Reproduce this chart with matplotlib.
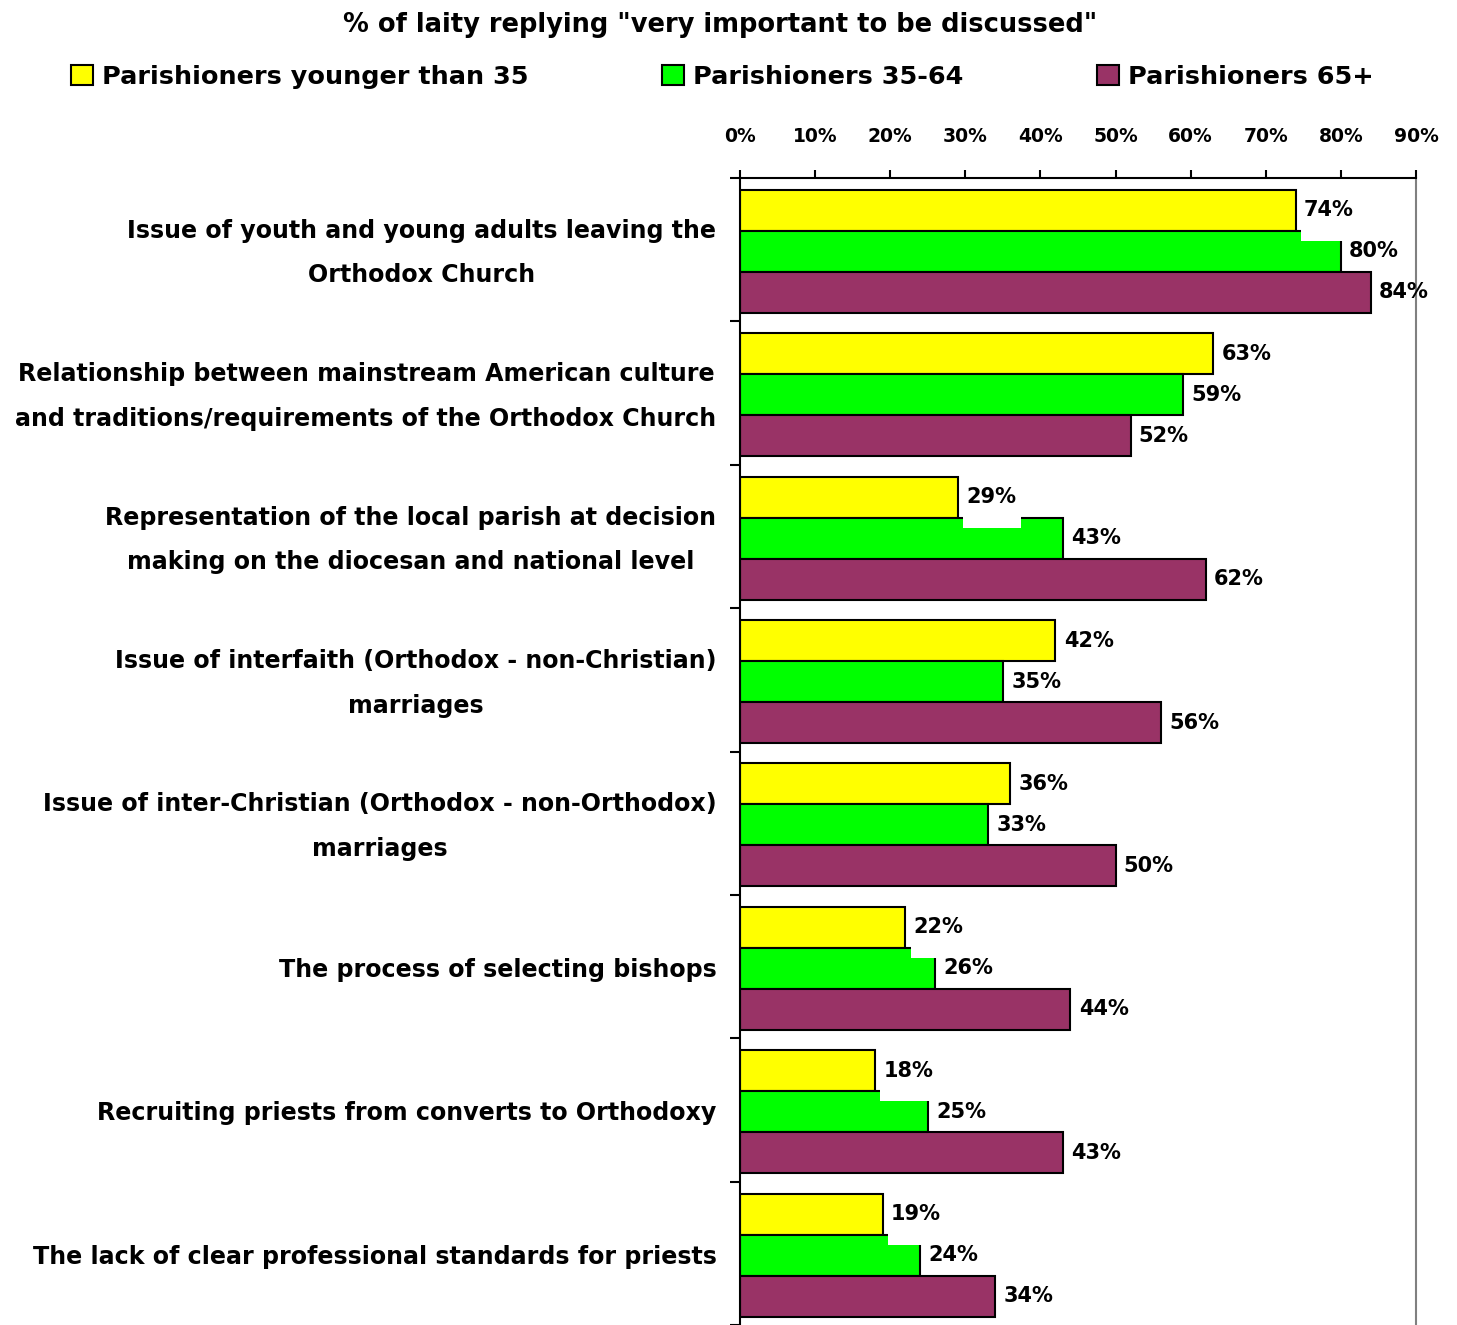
import numpy as np
import matplotlib
matplotlib.use("Agg")
import matplotlib.pyplot as plt
from matplotlib.patches import Patch, Rectangle

plt.rcParams['font.family'] = ['DejaVu Sans']
plt.rcParams['font.weight'] = 'bold'

# Donnees
categories = [
    "Issue of youth and young adults leaving the\nOrthodox Church",
    "Relationship between mainstream American culture\nand traditions/requirements of the Orthodox Church",
    "Representation of the local parish at decision\nmaking on the diocesan and national level",
    "Issue of interfaith (Orthodox - non-Christian)\nmarriages",
    "Issue of inter-Christian (Orthodox - non-Orthodox)\nmarriages",
    "The process of selecting bishops",
    "Recruiting priests from converts to Orthodoxy",
    "The lack of clear professional standards for priests",
]
jeunes = [74, 63, 29, 42, 36, 22, 18, 19]
moyens = [80, 59, 43, 35, 33, 26, 25, 24]
aines = [84, 52, 62, 56, 50, 44, 43, 34]
series = ["Parishioners younger than 35", "Parishioners 35-64", "Parishioners 65+"]
couleurs = ["#FFFF00", "#00FF00", "#993366"]
x_ticks = [0, 10, 20, 30, 40, 50, 60, 70, 80, 90]
titre = '% of laity replying "very important to be discussed"'

W, H = 1457, 1325
fig = plt.figure(figsize=(W / 100, H / 100), dpi=100)
ax = fig.add_axes([740 / W, 0, 676 / W, 1 - 178 / H])

h = 0.286
y = np.arange(len(categories))
valeurs = [jeunes, moyens, aines]
for k, (vals, c) in enumerate(zip(valeurs, couleurs)):
    pos = y + (k - 1) * h + 0.012
    ax.barh(pos, vals, height=h, color=c, edgecolor="black", linewidth=1.5, zorder=2)
    for p, v in zip(pos, vals):
        if k == 0:
            # fond blanc de l'etiquette qui mord sur la barre suivante
            ax.add_patch(Rectangle((v + 0.7, p), 7.7, h / 2 + 0.07,
                                   facecolor="white", edgecolor="none", zorder=3))
        ax.text(v + 1.1, p, "%d%%" % v, va="center", ha="left",
                fontsize=15, fontweight="bold", zorder=4)

ax.set_xlim(0, 90)
ax.set_ylim(len(categories) - 0.5, -0.5)

ax.xaxis.tick_top()
ax.set_xticks(x_ticks)
ax.set_xticklabels(["%d%%" % t for t in x_ticks], fontsize=13.5, fontweight="bold")
ax.tick_params(axis="x", direction="out", length=6, width=1.5, pad=17)

# libelles des categories (centres dans le groupe)
ax.set_yticks(y)
ax.set_yticklabels([])
ax.tick_params(axis="y", which="major", length=0)
for i, cat in enumerate(categories):
    ax.annotate(cat, xy=(0, i), xycoords=ax.get_yaxis_transform(),
                xytext=(-17, -2.5), textcoords="offset points",
                ha="right", va="center", multialignment="center",
                fontsize=17.15, fontweight="bold", linespacing=2.08)
ax.set_yticks(np.arange(-0.5, len(categories), 1), minor=True)
ax.tick_params(axis="y", which="minor", direction="out", length=7, width=1.5)

ax.spines["bottom"].set_visible(False)
ax.spines["top"].set_linewidth(1.5)
ax.spines["left"].set_linewidth(1.5)
ax.spines["right"].set_color("#808080")
ax.spines["right"].set_linewidth(1.5)

fig.text(720 / W, 1 - 25 / H, titre, ha="center", va="center", fontsize=18.5, fontweight="bold")

handles = [Patch(facecolor=c, edgecolor="black", linewidth=1.5) for c in couleurs]
fig.legend(handles, series, loc="center left", bbox_to_anchor=(71 / W, 1 - 77 / H),
           ncol=3, frameon=False, borderaxespad=0, borderpad=0,
           handlelength=0.86, handleheight=0.86, handletextpad=0.35, columnspacing=5.25,
           prop={"weight": "bold", "size": 18.35})

plt.savefig("out.png", dpi=100)
